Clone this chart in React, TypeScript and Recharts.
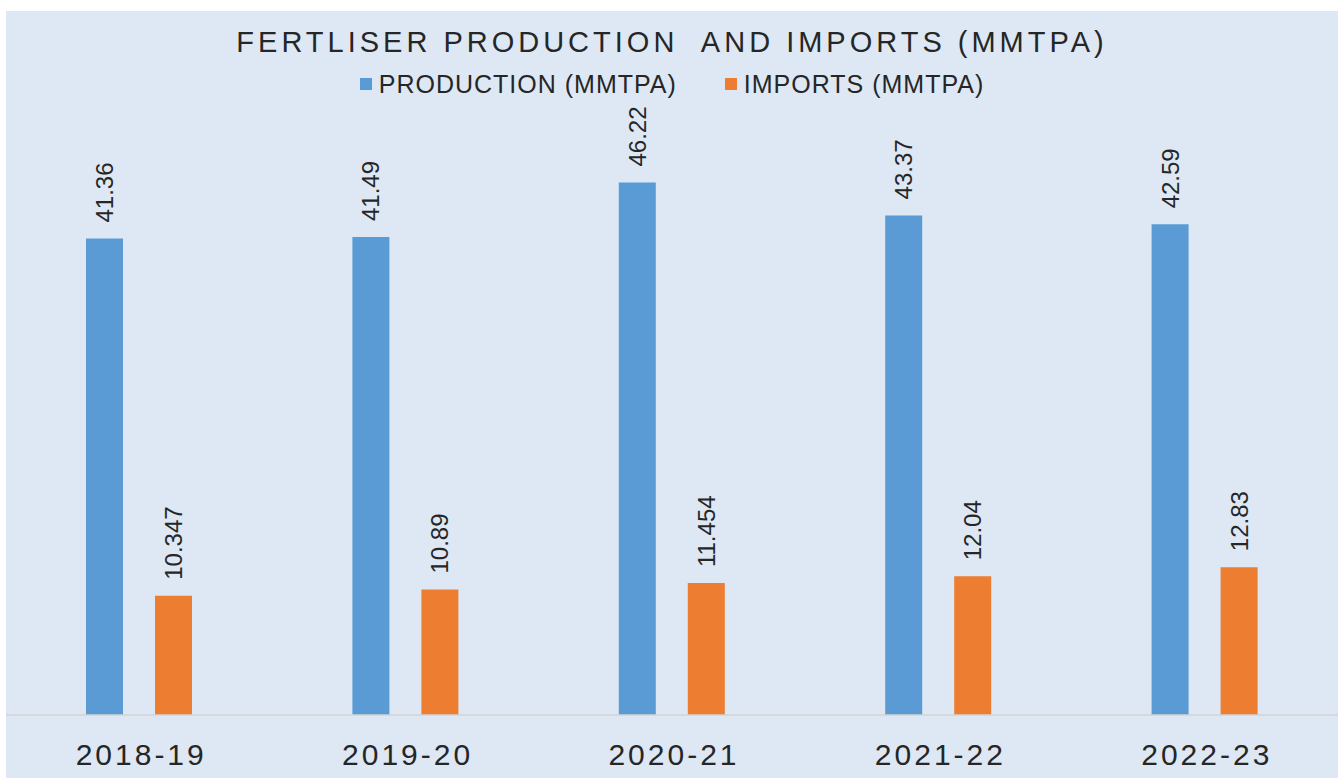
import React from "react";
import { BarChart, Bar, XAxis, YAxis } from "recharts";

// Fertiliser production vs imports, MMTPA
const years = ["2018-19", "2019-20", "2020-21", "2021-22", "2022-23"];
const production = [41.36, 41.49, 46.22, 43.37, 42.59];
const imports = [10.347, 10.89, 11.454, 12.04, 12.83];

const data = years.map((year, i) => ({ year, production: production[i], imports: imports[i] }));

const FONT = "'Liberation Sans', Arial, sans-serif";
const INK = "#262626";
const BLUE = "#5b9bd5";
const ORANGE = "#ed7d31";

const W = 1332;
const H = 767;

function ValueLabel(props: any) {
  const { x, y, width, value } = props;
  const cx = x + width / 2;
  const ty = y - 16;
  return (
    <text
      x={cx}
      y={ty}
      transform={`rotate(-90, ${cx}, ${ty})`}
      textAnchor="start"
      dominantBaseline="central"
      fontFamily={FONT}
      fontSize={24}
      fill={INK}
    >
      {value}
    </text>
  );
}

function YearTick(props: any) {
  const { x, y, payload } = props;
  return (
    <text x={x + 2} y={y + 50} textAnchor="middle" fontFamily={FONT} fontSize={30} letterSpacing={3} fill={INK}>
      {payload.value}
    </text>
  );
}

function LegendBox() {
  const items = [
    { name: "PRODUCTION (MMTPA)", color: BLUE },
    { name: "IMPORTS (MMTPA)", color: ORANGE },
  ];
  return (
    <div
      style={{
        position: "absolute",
        top: 59,
        left: 0,
        width: W,
        display: "flex",
        justifyContent: "center",
        gap: 48,
        fontFamily: FONT,
        fontSize: 25,
        color: INK,
      }}
    >
      {items.map((it) => (
        <div key={it.name} style={{ display: "flex", alignItems: "center" }}>
          <span style={{ width: 12, height: 12, background: it.color, marginRight: 7, display: "inline-block" }} />
          <span style={{ letterSpacing: 1, lineHeight: "28px" }}>{it.name}</span>
        </div>
      ))}
    </div>
  );
}

export default function App() {
  return (
    <div style={{ position: "absolute", left: 6, top: 11, width: W, height: H, background: "#dde8f4" }}>
      <div
        style={{
          position: "absolute",
          top: 14,
          left: 0,
          width: W,
          textAlign: "center",
          fontFamily: FONT,
          fontSize: 29,
          letterSpacing: 4,
          color: INK,
          lineHeight: "34px",
        }}
      >
        FERTLISER PRODUCTION&nbsp; AND IMPORTS (MMTPA)
      </div>
      <LegendBox />
      <BarChart
        width={W}
        height={H}
        data={data}
        margin={{ top: 128, right: 0, bottom: 0, left: 0 }}
        barGap={32}
        barSize={37}
        style={{ position: "absolute", left: 0, top: 0 }}
      >
        <XAxis
          dataKey="year"
          height={63}
          tickLine={false}
          tickSize={0}
          tickMargin={0}
          axisLine={{ stroke: "#d3d3d3", strokeWidth: 1.5 }}
          tick={<YearTick />}
          interval={0}
        />
        <YAxis hide domain={[0, 50]} />
        <Bar dataKey="production" name="PRODUCTION (MMTPA)" fill={BLUE} isAnimationActive={false} label={<ValueLabel />} />
        <Bar dataKey="imports" name="IMPORTS (MMTPA)" fill={ORANGE} isAnimationActive={false} label={<ValueLabel />} />
      </BarChart>
    </div>
  );
}
